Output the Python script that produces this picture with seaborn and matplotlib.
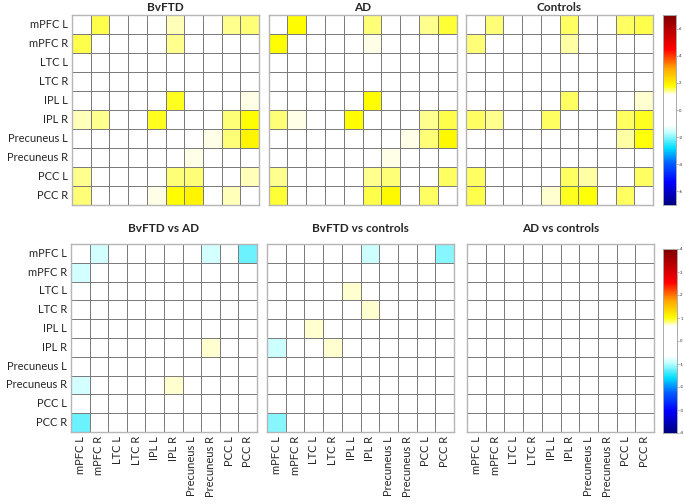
import matplotlib
matplotlib.use('Agg')
import matplotlib.pyplot as plt
import numpy as np
import seaborn as sns
from matplotlib.colors import LinearSegmentedColormap

# region labels (rows and columns of every matrix)
regions = ['mPFC L', 'mPFC R', 'LTC L', 'LTC R', 'IPL L', 'IPL R',
           'Precuneus L', 'Precuneus R', 'PCC L', 'PCC R']

# group connectivity values
bvftd = [
    [0, 1.55, 0, 0, 0, 1.3, 0, 0, 1.4, 1.45],
    [1.55, 0, 0, 0, 0, 1.4, 0, 0, 0, 0],
    [0, 0, 0, 0, 0, 0, 0, 0, 0, 0],
    [0, 0, 0, 0, 0, 0, 0, 0, 0, 0],
    [0, 0, 0, 0, 0, 1.65, 0, 0, 0, 1.2],
    [1.3, 1.4, 0, 0, 1.65, 0, 0, 0, 1.45, 1.75],
    [0, 0, 0, 0, 0, 0, 0, 1.2, 1.45, 1.9],
    [0, 0, 0, 0, 0, 0, 1.2, 0, 0, 0],
    [1.4, 0, 0, 0, 0, 1.45, 1.45, 0, 0, 1.3],
    [1.45, 0, 0, 0, 1.2, 1.75, 1.9, 0, 1.3, 0],
]
ad = [
    [0, 1.75, 0, 0, 0, 1.45, 0, 0, 1.4, 1.6],
    [1.75, 0, 0, 0, 0, 1.2, 0, 0, 0, 0],
    [0, 0, 0, 0, 0, 0, 0, 0, 0, 0],
    [0, 0, 0, 0, 0, 0, 0, 0, 0, 0],
    [0, 0, 0, 0, 0, 1.75, 0, 0, 0, 0],
    [1.45, 1.2, 0, 0, 1.75, 0, 0, 0, 1.4, 1.55],
    [0, 0, 0, 0, 0, 0, 0, 1.2, 1.45, 1.85],
    [0, 0, 0, 0, 0, 0, 1.2, 0, 0, 0],
    [1.4, 0, 0, 0, 0, 1.4, 1.45, 0, 0, 1.5],
    [1.6, 0, 0, 0, 0, 1.55, 1.85, 0, 1.5, 0],
]
controls = [
    [0, 1.45, 0, 0, 0, 1.5, 0, 0, 1.5, 1.55],
    [1.45, 0, 0, 0, 0, 1.35, 0, 0, 0, 0],
    [0, 0, 0, 0, 0, 0, 0, 0, 0, 0],
    [0, 0, 0, 0, 0, 0, 0, 0, 0, 0],
    [0, 0, 0, 0, 0, 1.5, 0, 0, 0, 1.25],
    [1.5, 1.4, 0, 0, 1.5, 0, 0, 0, 1.5, 1.65],
    [0, 0, 0, 0, 0, 0, 0, 0, 1.35, 1.7],
    [0, 0, 0, 0, 0, 0, 0, 0, 0, 0],
    [1.5, 0, 0, 0, 0, 1.5, 1.35, 0, 0, 1.5],
    [1.55, 0, 0, 0, 1.25, 1.65, 1.7, 0, 1.5, 0],
]

# group differences
bvftd_vs_ad = [
    [0, -0.85, 0, 0, 0, 0, 0, -0.85, 0, -1.25],
    [-0.85, 0, 0, 0, 0, 0, 0, 0, 0, 0],
    [0, 0, 0, 0, 0, 0, 0, 0, 0, 0],
    [0, 0, 0, 0, 0, 0, 0, 0, 0, 0],
    [0, 0, 0, 0, 0, 0, 0, 0, 0, 0],
    [0, 0, 0, 0, 0, 0, 0, 0.7, 0, 0],
    [0, 0, 0, 0, 0, 0, 0, 0, 0, 0],
    [-0.85, 0, 0, 0, 0, 0.7, 0, 0, 0, 0],
    [0, 0, 0, 0, 0, 0, 0, 0, 0, 0],
    [-1.25, 0, 0, 0, 0, 0, 0, 0, 0, 0],
]
bvftd_vs_controls = [
    [0, 0, 0, 0, 0, -0.9, 0, 0, 0, -1.15],
    [0, 0, 0, 0, 0, 0, 0, 0, 0, 0],
    [0, 0, 0, 0, 0.7, 0, 0, 0, 0, 0],
    [0, 0, 0, 0, 0, 0.7, 0, 0, 0, 0],
    [0, 0, 0.7, 0, 0, 0, 0, 0, 0, 0],
    [-0.9, 0, 0, 0.7, 0, 0, 0, 0, 0, 0],
    [0, 0, 0, 0, 0, 0, 0, 0, 0, 0],
    [0, 0, 0, 0, 0, 0, 0, 0, 0, 0],
    [0, 0, 0, 0, 0, 0, 0, 0, 0, 0],
    [-1.15, 0, 0, 0, 0, 0, 0, 0, 0, 0],
]
ad_vs_controls = [
    [0, 0, 0, 0, 0, 0, 0, 0, 0, 0],
    [0, 0, 0, 0, 0, 0, 0, 0, 0, 0],
    [0, 0, 0, 0, 0, 0, 0, 0, 0, 0],
    [0, 0, 0, 0, 0, 0, 0, 0, 0, 0],
    [0, 0, 0, 0, 0, 0, 0, 0, 0, 0],
    [0, 0, 0, 0, 0, 0, 0, 0, 0, 0],
    [0, 0, 0, 0, 0, 0, 0, 0, 0, 0],
    [0, 0, 0, 0, 0, 0, 0, 0, 0, 0],
    [0, 0, 0, 0, 0, 0, 0, 0, 0, 0],
    [0, 0, 0, 0, 0, 0, 0, 0, 0, 0],
]

top_titles = ['BvFTD', 'AD', 'Controls']
bottom_titles = ['BvFTD vs AD', 'BvFTD vs controls', 'AD vs controls']
top_ticks = [-6, -4, -2, 0, 2, 4, 6]
bottom_ticks = [-4, -3, -2, -1, 0, 1, 2, 3, 4]

sns.set_style('white')
plt.rcParams['font.family'] = ['Lato', 'DejaVu Sans']

# jet-like map with a white band around zero
cmap = LinearSegmentedColormap.from_list('jetwhite', [
    (0.00, '#00007f'), (0.12, '#0000ff'), (0.22, '#0060ff'),
    (0.30, '#00e0ff'), (0.38, '#c0ffff'), (0.42, '#ffffff'),
    (0.58, '#ffffff'), (0.625, '#ffff00'), (0.72, '#ffa500'),
    (0.82, '#ff0000'), (1.00, '#800000')])

W, H = 684, 504
fig = plt.figure(figsize=(6.84, 5.04), dpi=100)


def px_axes(x0, y0, x1, y1):
    # axes from pixel box (top-left origin)
    return fig.add_axes([x0 / W, 1 - y1 / H, (x1 - x0) / W, (y1 - y0) / H])


top_boxes = [(72, 15, 259, 205), (268.5, 15, 456.5, 205), (466, 15, 653, 205)]
bottom_boxes = [(71, 244, 257, 432), (267, 244, 454, 432), (467, 244, 654, 432)]

cax_top = px_axes(663, 15, 676, 205)
cax_bottom = px_axes(663, 249, 677, 433)


def draw_panel(mat, box, title, vlim, cax, show_y, show_x, pad):
    ax = px_axes(*box)
    sns.heatmap(np.array(mat, dtype=float), ax=ax, cmap=cmap, vmin=-vlim, vmax=vlim,
                linewidths=0.7, linecolor='#7c7c7c',
                cbar=cax is not None, cbar_ax=cax,
                xticklabels=regions if show_x else False,
                yticklabels=regions if show_y else False)
    for s in ax.spines.values():
        s.set_visible(True)
        s.set_color('#b5b5b5')
        s.set_linewidth(1.0)
    ax.tick_params(direction='in', length=2, width=0.5, color='#999999',
                   top=True, right=True, labelsize=8, pad=3)
    if show_y:
        ax.set_yticklabels(regions, rotation=0)
    if show_x:
        ax.set_xticklabels(regions, rotation=90)
    ax.set_title(title, fontsize=8.5, fontweight='bold', pad=pad)
    return ax


for i, (mat, title) in enumerate(zip([bvftd, ad, controls], top_titles)):
    draw_panel(mat, top_boxes[i], title, 7, cax_top if i == 2 else None,
               i == 0, False, 3)

for i, (mat, title) in enumerate(zip([bvftd_vs_ad, bvftd_vs_controls, ad_vs_controls], bottom_titles)):
    draw_panel(mat, bottom_boxes[i], title, 4, cax_bottom if i == 2 else None,
               i == 0, True, 9)

for cax, ticks in [(cax_top, top_ticks), (cax_bottom, bottom_ticks)]:
    cax.set_yticks(ticks)
    cax.set_yticklabels([str(t) for t in ticks])
    cax.tick_params(labelsize=3, length=1.5, width=0.4, pad=0.8, color='#777777')
    for s in cax.spines.values():
        s.set_visible(True)
        s.set_color('#aaaaaa')
        s.set_linewidth(0.6)

fig.savefig('out.png', dpi=100)
